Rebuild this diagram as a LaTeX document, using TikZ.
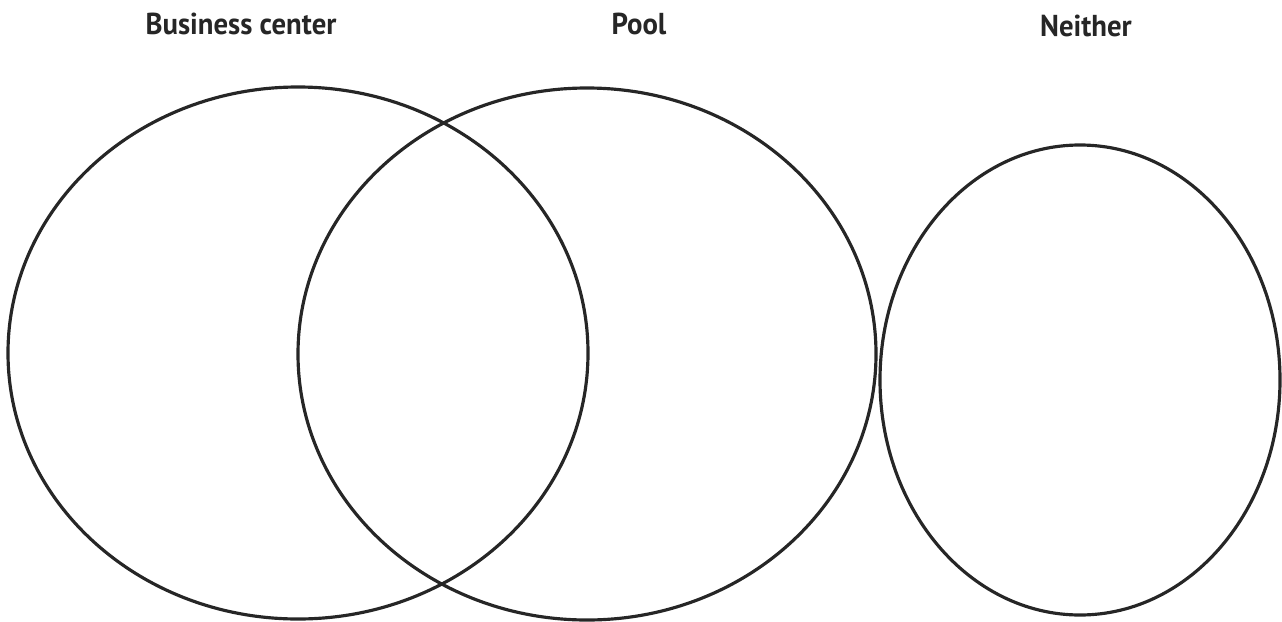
\documentclass[tikz,border=0pt]{standalone}
\usepackage{fontspec}
\setmainfont{PT Sans}
\usepackage{tikz}
\usetikzlibrary{positioning}

\tikzset{
    setline/.style={draw=black!85, line width=0.9pt},
    setlabel/.style={font=\bfseries\fontsize{8.6}{10}\selectfont, text=black!85, inner sep=0pt, xscale=0.95}
}

\begin{document}
\begin{tikzpicture}[x=0.01cm, y=-0.01cm]
    \useasboundingbox (0,0) rectangle (1282,621);
    % the three sets
    \draw[setline] (298,353) ellipse (290 and 266);
    \draw[setline] (587,354) ellipse (289 and 266);
    \draw[setline] (1080,380) ellipse (200 and 235);
    % headings
    \node[setlabel] (business) at (241,24) {Business center};
    \node[setlabel] (pool) at (639,24) {Pool};
    \node[setlabel] (neither) at (1086,26) {Neither};
\end{tikzpicture}
\end{document}
